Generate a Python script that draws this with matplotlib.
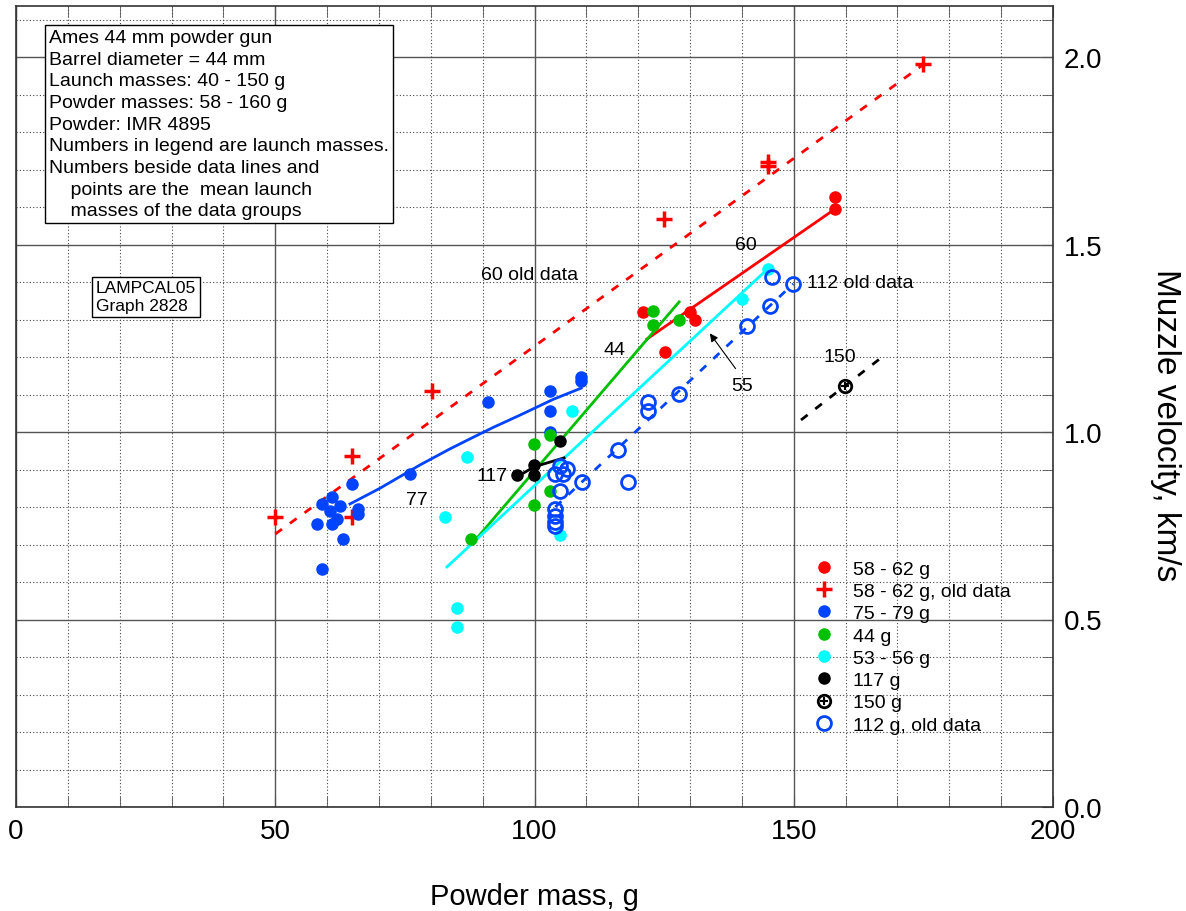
import numpy as np
import matplotlib.pyplot as plt
from matplotlib.ticker import MultipleLocator
from matplotlib.legend_handler import HandlerTuple

plt.rcParams['font.family'] = ['Liberation Sans', 'DejaVu Sans']

# ---- data (powder mass g, muzzle velocity km/s) ----
red_x = [120.9, 130.0, 131.0, 125.2, 158.0, 158.0]
red_y = [1.32, 1.32, 1.30, 1.213, 1.627, 1.595]
red_fit_x = [121.7, 158.0]
red_fit_y = [1.248, 1.595]

red_old_x = [50.0, 64.8, 64.8, 80.2, 125.0, 145.0, 145.0, 174.9]
red_old_y = [0.773, 0.936, 0.773, 1.109, 1.568, 1.72, 1.71, 1.981]
red_old_fit_x = [50.0, 175.0]
red_old_fit_y = [0.728, 1.98]

blue_x = [64.8, 59.0, 60.9, 62.5, 58.1, 60.9, 61.9, 66.0, 66.0, 63.1, 59.0, 60.6,
          76.0, 91.0, 103.0, 103.0, 103.0, 109.0, 109.0]
blue_y = [0.861, 0.808, 0.827, 0.803, 0.755, 0.755, 0.768, 0.795, 0.781, 0.715, 0.635, 0.789,
          0.888, 1.08, 1.109, 1.056, 1.0, 1.147, 1.136]
blue_fit_x = [64.4, 70.2, 77.9, 83.7, 87.6, 92.0, 97.2, 103.6, 109.0]
blue_fit_y = [0.808, 0.850, 0.912, 0.955, 0.982, 1.012, 1.045, 1.087, 1.117]

green_x = [99.9, 103.0, 103.0, 99.9, 87.8, 122.9, 122.9, 127.9]
green_y = [0.968, 0.992, 0.843, 0.805, 0.715, 1.323, 1.285, 1.299]
green_fit_x = [87.9, 127.9]
green_fit_y = [0.701, 1.347]

cyan_x = [82.7, 87.0, 107.2, 104.9, 85.1, 85.1, 140.0, 145.0]
cyan_y = [0.773, 0.933, 1.056, 0.725, 0.531, 0.48, 1.355, 1.435]
cyan_fit_x = [83.1, 145.0]
cyan_fit_y = [0.64, 1.435]

black_x = [96.6, 99.9, 99.9, 104.9]
black_y = [0.885, 0.912, 0.885, 0.976]
black_fit_x = [97.2, 99.9, 105.7]
black_fit_y = [0.885, 0.907, 0.931]

b150_x = [159.9]
b150_y = [1.123]
b150_fit_x = [151.4, 167.8]
b150_fit_y = [1.032, 1.208]

old112_x = [104.9, 104.0, 105.5, 106.3, 104.9, 104.0, 104.0, 104.0, 104.0, 109.2,
            118.0, 116.1, 121.9, 121.9, 127.9, 141.0, 145.4, 145.8, 149.9]
old112_y = [0.909, 0.888, 0.888, 0.901, 0.843, 0.795, 0.776, 0.76, 0.749, 0.867,
            0.867, 0.952, 1.08, 1.056, 1.101, 1.283, 1.336, 1.413, 1.395]
old112_fit_x = [104.0, 149.9]
old112_fit_y = [0.80, 1.395]

RED = '#ff0000'
BLUE = '#0044ff'
GREEN = '#00c000'
CYAN = '#00ffff'

fig = plt.figure(figsize=(11.86, 9.12), dpi=100)
ax = fig.add_axes([16/1186, 1 - 808/912, (1053 - 16)/1186, (808 - 7)/912])
ax.set_xlim(0, 200)
ax.set_ylim(0, 801/375)

# grid
ax.xaxis.set_major_locator(MultipleLocator(50))
ax.xaxis.set_minor_locator(MultipleLocator(10))
ax.yaxis.set_major_locator(MultipleLocator(0.5))
ax.yaxis.set_minor_locator(MultipleLocator(0.1))
ax.grid(which='minor', color='#444444', linestyle=(0, (1, 2)), linewidth=0.8)
ax.grid(which='major', color='#555555', linestyle='-', linewidth=1.0)
ax.set_axisbelow(True)
ax.tick_params(which='both', direction='in', top=True, right=True,
               left=False, labelleft=False, labelright=True,
               labelsize=20, pad=8)
ax.tick_params(which='major', length=8, color='#555555')
ax.tick_params(which='minor', length=8, color='#555555')
ax.yaxis.set_major_formatter(plt.FormatStrFormatter('%.1f'))
for s in ax.spines.values():
    s.set_color('#333333')
    s.set_linewidth(1.2)

ms = 8
# fit lines
ax.plot(red_old_fit_x, red_old_fit_y, color=RED, lw=2, dashes=(3, 3.5))
ax.plot(red_fit_x, red_fit_y, color=RED, lw=2)
ax.plot(blue_fit_x, blue_fit_y, color=BLUE, lw=2)
ax.plot(green_fit_x, green_fit_y, color=GREEN, lw=2)
ax.plot(cyan_fit_x, cyan_fit_y, color=CYAN, lw=2)
ax.plot(black_fit_x, black_fit_y, color='black', lw=2)
ax.plot(b150_fit_x, b150_fit_y, color='black', lw=2, dashes=(3, 3.5))
ax.plot(old112_fit_x, old112_fit_y, color=BLUE, lw=2, dashes=(3, 3.5))

# points
h1, = ax.plot(red_x, red_y, 'o', color=RED, ms=ms, ls='none')
h2, = ax.plot(red_old_x, red_old_y, '+', color=RED, ms=11, mew=2.5, ls='none')
h3, = ax.plot(blue_x, blue_y, 'o', color=BLUE, ms=ms, ls='none')
h4, = ax.plot(green_x, green_y, 'o', color=GREEN, ms=ms, ls='none')
h5, = ax.plot(cyan_x, cyan_y, 'o', color=CYAN, ms=ms, ls='none')
h6, = ax.plot(black_x, black_y, 'o', color='black', ms=ms, ls='none')
h7a, = ax.plot(b150_x, b150_y, 'o', mfc='none', mec='black', mew=2, ms=9, ls='none')
h7b, = ax.plot(b150_x, b150_y, '+', color='black', mew=1.5, ms=6, ls='none')
h8, = ax.plot(old112_x, old112_y, 'o', mfc='none', mec=BLUE, mew=2, ms=10, ls='none')

ax.legend([h1, h2, h3, h4, h5, h6, (h7a, h7b), h8],
          ['58 - 62 g', '58 - 62 g, old data', '75 - 79 g', '44 g', '53 - 56 g',
           '117 g', '150 g', '112 g, old data'],
          handler_map={tuple: HandlerTuple(ndivide=1, pad=0)},
          loc='upper left', bbox_to_anchor=(0.762, 0.318), frameon=False,
          fontsize=14, handlelength=1.0, handletextpad=1.0, labelspacing=0.24,
          borderaxespad=0)

# annotations
fs = 14
ax.text(77.4, 0.821, '77', fontsize=fs, ha='center', va='center')
ax.text(91.8, 0.885, '117', fontsize=fs, ha='center', va='center')
ax.text(115.5, 1.221, '44', fontsize=fs, ha='center', va='center')
ax.text(99.1, 1.419, '60 old data', fontsize=fs, ha='center', va='center')
ax.text(140.8, 1.499, '60', fontsize=fs, ha='center', va='center')
ax.text(152.6, 1.40, '112 old data', fontsize=fs, ha='left', va='center')
ax.text(158.9, 1.20, '150', fontsize=fs, ha='center', va='center')
ax.text(140.0, 1.123, '55', fontsize=fs, ha='center', va='center')
ax.annotate('', xy=(133.5, 1.269), xytext=(139.1, 1.163),
            arrowprops=dict(arrowstyle='-|>', color='black', lw=0.8,
                            mutation_scale=12))

info = ('Ames 44 mm powder gun\nBarrel diameter = 44 mm\nLaunch masses: 40 - 150 g\n'
        'Powder masses: 58 - 160 g\nPowder: IMR 4895\nNumbers in legend are launch masses.\n'
        'Numbers beside data lines and\n    points are the  mean launch\n'
        '    masses of the data groups')
ax.text(6.4, 2.075, info, fontsize=14, ha='left', va='top', linespacing=1.36,
        bbox=dict(boxstyle='square,pad=0.2', fc='white', ec='black', lw=1))
ax.text(15.4, 1.405, 'LAMPCAL05\nGraph 2828', fontsize=12.5, ha='left', va='top',
        linespacing=1.25,
        bbox=dict(boxstyle='square,pad=0.2', fc='white', ec='black', lw=1))

fig.text(534/1186, 1 - 897/912, 'Powder mass, g', fontsize=21, ha='center', va='center')
fig.text(1165/1186, 1 - 425/912, 'Muzzle velocity, km/s', fontsize=24,
         rotation=-90, ha='center', va='center')

plt.savefig('out.png', dpi=100)
